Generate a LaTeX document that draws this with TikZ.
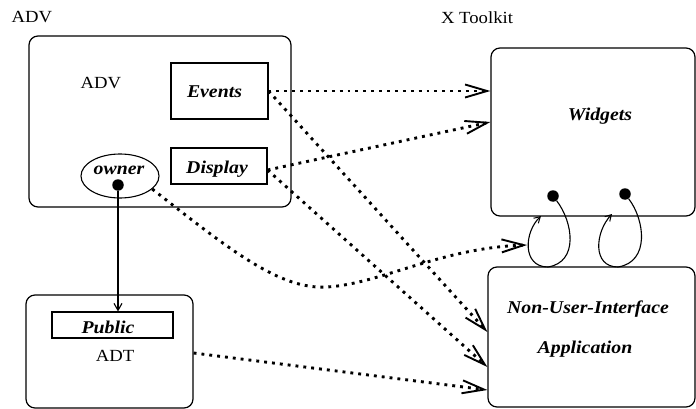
\documentclass[tikz,border=0pt]{standalone}
\usepackage{fontspec}
\setmainfont{Liberation Serif}
\newfontfamily\labelfont[FakeStretch=1.1]{Liberation Serif}
\usetikzlibrary{arrows.meta,shapes.geometric}

\tikzset{
  roundbox/.style={draw, line width=1.2pt, rounded corners=9pt, inner sep=0pt},
  plainbox/.style={draw, line width=1.1pt, inner sep=0pt},
  plaintext/.style={font=\labelfont\fontsize{17}{20}\selectfont, anchor=base, inner sep=0pt},
  partname/.style={font=\labelfont\bfseries\itshape\fontsize{18}{21}\selectfont, anchor=base, inner sep=0pt},
  blob/.style={circle, fill=black, inner sep=0pt, minimum size=11.5pt},
  dotline/.style={line width=2.9pt, dash pattern=on 2.9pt off 5pt,
    -{Straight Barb[length=22pt,width=13pt,line width=1.9pt]}},
  thinarrow/.style={line width=1.1pt, -{Straight Barb[length=7pt,width=8pt,line width=1.1pt]}},
}

\begin{document}
\begin{tikzpicture}[x=1pt,y=-1pt]
\useasboundingbox (0,0) rectangle (696,409);

% component boxes
\node[roundbox, minimum width=262pt, minimum height=171pt] (advbox) at (160,121.5) {};
\node[plainbox, minimum width=97pt, minimum height=56pt] (events) at (219.5,91) {};
\node[plainbox, minimum width=96pt, minimum height=36pt] (display) at (219,166) {};
\node[ellipse, draw, line width=1.1pt, inner sep=0pt, minimum width=78pt, minimum height=44pt] (owner) at (120,176) {};
\node[blob] (ownerdot) at (118,185) {};

\node[roundbox, minimum width=204pt, minimum height=168pt] (widgets) at (593,132) {};
\node[roundbox, minimum width=207pt, minimum height=140pt] (nui) at (591.5,337) {};
\node[roundbox, minimum width=167pt, minimum height=113pt] (adt) at (109.5,351.5) {};
\node[plainbox, minimum width=121pt, minimum height=26pt] (public) at (112.5,325) {};

\node[blob] (dotA) at (553,196) {};
\node[blob] (dotB) at (625,194) {};

% labels
\node[plaintext] (advtitle) at (32,23) {ADV};
\node[plaintext] (xtk) at (477,24) {X Toolkit};
\node[plaintext] (advinner) at (101,89) {ADV};
\node[plaintext] (adtlabel) at (115,361) {ADT};
\node[partname] (evlabel) at (214.5,98) {Events};
\node[partname] (dislabel) at (217,173) {Display};
\node[partname] (ownlabel) at (119,174) {owner};
\node[partname] (widlabel) at (600,121) {Widgets};
\node[partname] (nuilabel) at (588,313) {Non-User-Interface};
\node[partname] (applabel) at (585,353) {Application};
\node[partname] (publabel) at (108,333) {Public};

% owner refers to the public part of the ADT
\draw[thinarrow] (ownerdot) -- (ownerdot |- public.north);

% dotted dependencies
\draw[dotline] (events.east) -- (widgets.west |- events.east);
\draw[dotline] ([yshift=-4pt]display.east) -- ([yshift=10pt]widgets.west);
\draw[dotline] (events.east) -- ([yshift=5pt]nui.west);
\draw[dotline] ([yshift=-4pt]display.east) -- ([yshift=-30pt]nui.west);
\draw[dotline] ([yshift=-1.5pt]adt.east) -- ([yshift=-53pt]nui.west);

% owner curve to the widget callback loop
\coordinate (loopin) at (527,245);
\draw[dotline] (owner.-22) .. controls (230,250) and (280,290) .. (327,287)
  .. controls (380,284) and (440,248) .. (loopin);

% callback loops from widgets
\coordinate (tipA) at (541,216);
\coordinate (tipB) at (612,214);
\draw[line width=1.1pt, -{Straight Barb[length=6pt,width=7pt,line width=1pt]}]
  (dotA) .. controls (573,222) and (579,262) .. (548,267)
  .. controls (522,267) and (524,232) .. (tipA);
\draw[line width=1.1pt, -{Straight Barb[length=6pt,width=7pt,line width=1pt]}]
  (dotB) .. controls (645,220) and (650,262) .. (618,267)
  .. controls (592,267) and (595,232) .. (tipB);
\end{tikzpicture}
\end{document}
